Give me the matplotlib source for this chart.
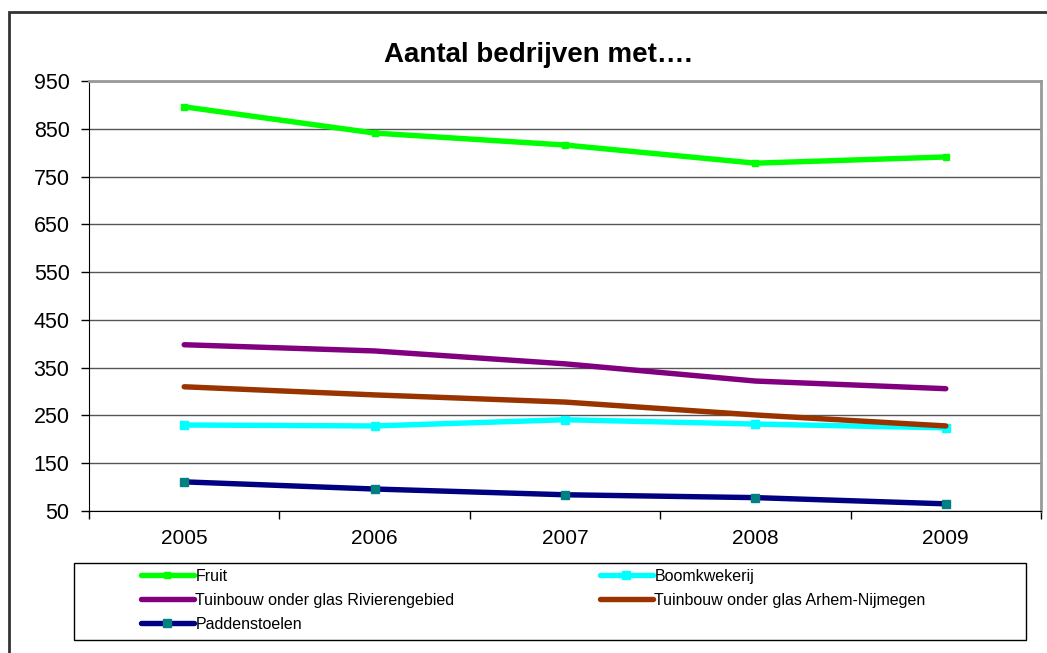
import matplotlib
matplotlib.use('Agg')
import matplotlib.pyplot as plt
from matplotlib.patches import Rectangle

plt.rcParams['font.family'] = ['Liberation Sans', 'DejaVu Sans']

# data
years = ['2005', '2006', '2007', '2008', '2009']
fruit = [896, 841, 816, 778, 791]
boomkwekerij = [230, 228, 241, 232, 224]
rivierengebied = [398, 385, 358, 322, 306]
arhem_nijmegen = [310, 293, 278, 251, 228]
paddenstoelen = [111, 96, 84, 78, 65]

W, H = 1047, 653
fig = plt.figure(figsize=(W / 100, H / 100), dpi=100)

# plot area in pixels: x 89..1041, y 81..511
ax = fig.add_axes([89 / W, 1 - 511 / H, 952 / W, 430 / H])

x = list(range(len(years)))
l_fruit, = ax.plot(x, fruit, color='#00FF00', lw=3.9, marker='s', ms=5,
                   mfc='#00FF00', mec='#00FF00', solid_capstyle='round')
l_boom, = ax.plot(x, boomkwekerij, color='#00FFFF', lw=3.9, marker='s', ms=6,
                  mfc='#00FFFF', mec='#00FFFF', solid_capstyle='round')
l_riv, = ax.plot(x, rivierengebied, color='#800080', lw=3.9, solid_capstyle='round')
l_arn, = ax.plot(x, arhem_nijmegen, color='#993300', lw=3.9, solid_capstyle='round')
l_pad, = ax.plot(x, paddenstoelen, color='#000080', lw=3.9, marker='s', ms=5.5,
                 mfc='#008080', mec='#008080', solid_capstyle='round')

ax.set_xlim(-0.5, len(years) - 0.5)
ax.set_ylim(50, 950)
ax.set_yticks(range(50, 951, 100))
ax.set_xticks(x)
ax.set_xticklabels(years)
ax.set_xticks([i - 0.5 for i in range(len(years) + 1)], minor=True)
ax.tick_params(axis='x', which='major', length=0, pad=13, labelsize=15)
ax.tick_params(axis='x', which='minor', length=6, width=1, direction='out')
ax.tick_params(axis='y', length=6, width=1, direction='out', pad=8, labelsize=15.5)

ax.grid(axis='y', color='#555555', lw=1)
ax.set_axisbelow(True)
ax.spines['left'].set_color('black')
ax.spines['bottom'].set_color('black')
ax.spines['top'].set_color('#999999')
ax.spines['right'].set_color('#999999')
ax.spines['top'].set_linewidth(2)
ax.spines['right'].set_linewidth(2)

fig.text(538 / W, 1 - 55 / H, 'Aantal bedrijven met….', ha='center', va='center',
         fontsize=20, fontweight='bold')

# legend box and two columns
fig.patches.append(Rectangle((74 / W, 1 - 640 / H), 952 / W, 77 / H,
                             transform=fig.transFigure, fill=False,
                             edgecolor='black', lw=1))
leg_kw = dict(frameon=False, fontsize=11.5, handlelength=3.3, handletextpad=0.1,
              labelspacing=0.55, borderpad=0, borderaxespad=0, loc='upper left')
fig.legend([l_fruit, l_riv, l_pad],
           ['Fruit', 'Tuinbouw onder glas Rivierengebied', 'Paddenstoelen'],
           bbox_to_anchor=(141 / W, 1 - 569 / H), **leg_kw)
fig.legend([l_boom, l_arn],
           ['Boomkwekerij', 'Tuinbouw onder glas Arhem-Nijmegen'],
           bbox_to_anchor=(600 / W, 1 - 569 / H), **leg_kw)

# outer chart border
fig.patches.append(Rectangle((9 / W, -0.05), 1.1, 1 - 12 / H + 0.05,
                             transform=fig.transFigure, fill=False,
                             edgecolor='#333333', lw=2))

fig.savefig('out.png', dpi=100)
